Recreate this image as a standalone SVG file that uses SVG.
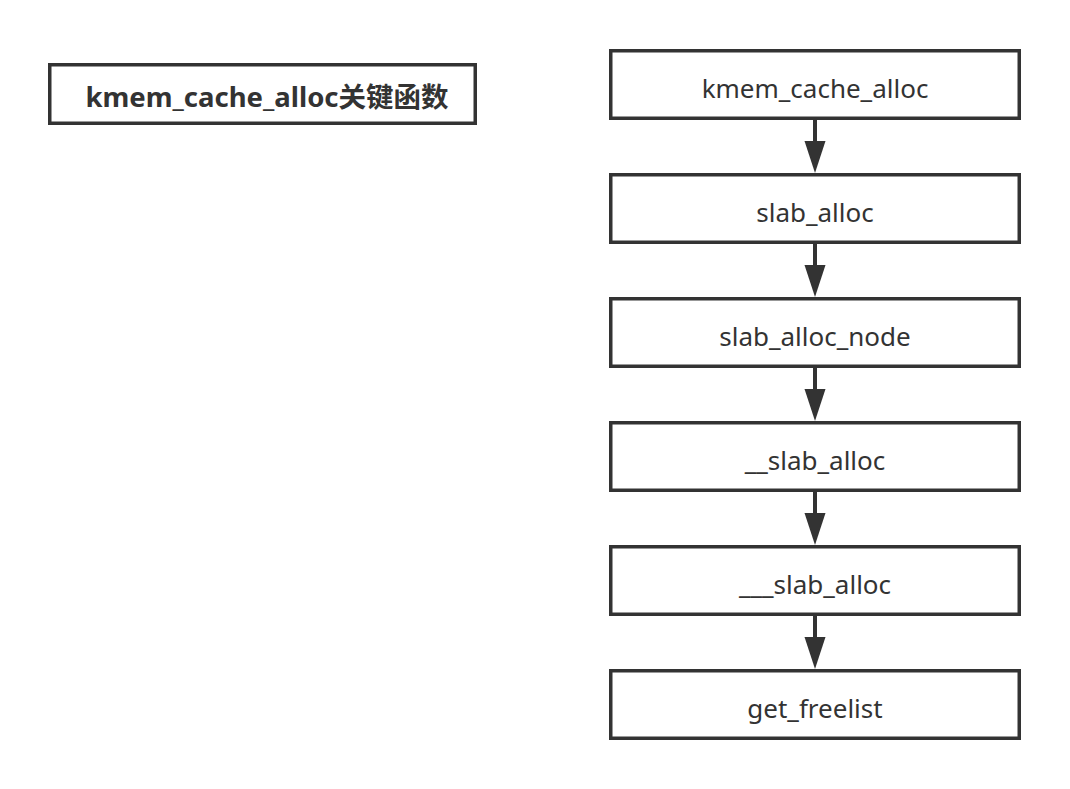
<svg xmlns="http://www.w3.org/2000/svg" width="1070" height="789" viewBox="0 0 1070 789">
<style>
.box{fill:#fff;stroke:#333;stroke-width:3.5}
.lbl{font-family:"Noto Sans","Noto Sans CJK SC",sans-serif;font-size:26px;fill:#333;text-anchor:middle}
.ttl{font-family:"Noto Sans","Noto Sans CJK SC",sans-serif;font-size:27.5px;font-weight:bold;fill:#333;text-anchor:middle}
.edge{stroke:#333;stroke-width:4;fill:none}
.head{fill:#333}
</style>
<defs>
<path id="ah" class="head" d="M-10.5,-32 L10.5,-32 L0,0 Z"/>
</defs>
<rect width="1070" height="789" fill="#fff"/>
<g id="title">
<rect class="box" x="49.75" y="64.75" width="425.5" height="58.5"/>
<text class="ttl" x="267" y="107">kmem_cache_alloc关键函数</text>
</g>
<g id="connectors">
<line class="edge" x1="815" y1="120" x2="815" y2="145"/><use href="#ah" x="815" y="173"/>
<line class="edge" x1="815" y1="244" x2="815" y2="269"/><use href="#ah" x="815" y="297"/>
<line class="edge" x1="815" y1="368" x2="815" y2="393"/><use href="#ah" x="815" y="421"/>
<line class="edge" x1="815" y1="492" x2="815" y2="517"/><use href="#ah" x="815" y="545"/>
<line class="edge" x1="815" y1="616" x2="815" y2="641"/><use href="#ah" x="815" y="669"/>
</g>
<g id="n1"><rect class="box" x="610.75" y="50.75" width="408.5" height="67.5"/><text class="lbl" x="815" y="98">kmem_cache_alloc</text></g>
<g id="n2"><rect class="box" x="610.75" y="174.75" width="408.5" height="67.5"/><text class="lbl" x="815" y="222">slab_alloc</text></g>
<g id="n3"><rect class="box" x="610.75" y="298.75" width="408.5" height="67.5"/><text class="lbl" x="815" y="346">slab_alloc_node</text></g>
<g id="n4"><rect class="box" x="610.75" y="422.75" width="408.5" height="67.5"/><text class="lbl" x="815" y="470">__slab_alloc</text></g>
<g id="n5"><rect class="box" x="610.75" y="546.75" width="408.5" height="67.5"/><text class="lbl" x="815" y="594">___slab_alloc</text></g>
<g id="n6"><rect class="box" x="610.75" y="670.75" width="408.5" height="67.5"/><text class="lbl" x="815" y="718">get_freelist</text></g>
</svg>
